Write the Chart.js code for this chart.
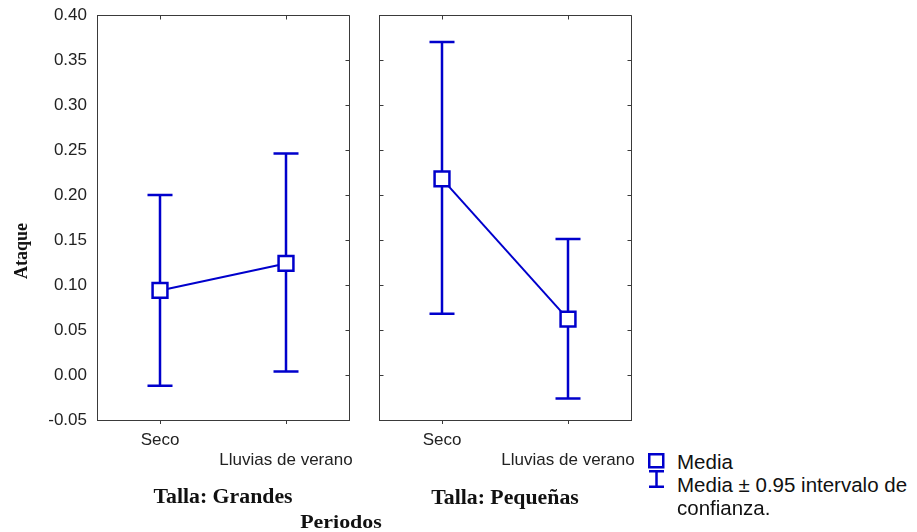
<!DOCTYPE html>
<html>
<head>
<meta charset="utf-8">
<script src="https://cdn.jsdelivr.net/npm/chart.js@4/dist/chart.umd.min.js"></script>
<style>
  body { margin: 0; background: #fff; width: 917px; height: 532px; position: relative; overflow: hidden;
         font-family: "Liberation Sans", Arial, sans-serif; }
  canvas { position: absolute; top: 0; }
  .t { position: absolute; white-space: nowrap; color: #111; line-height: 1; }
  .serif { font-family: "Liberation Serif", "Times New Roman", serif; font-weight: bold; }
  .leg { position: absolute; white-space: nowrap; color: #111; line-height: 1; font-size: 20.5px; transform: translateY(-50%); }
</style>
</head>
<body>
<canvas id="grandes" width="360" height="532" style="left:0"></canvas>
<canvas id="pequenas" width="280" height="532" style="left:360px"></canvas>

<div class="t serif" style="left:21px;top:251px;font-size:18px;transform:translate(-50%,-50%) rotate(-90deg);">Ataque</div>
<div class="t serif" style="left:223px;top:496px;font-size:20px;transform:translate(-50%,-50%) scaleX(1.09);">Talla: Grandes</div>
<div class="t serif" style="left:505px;top:497px;font-size:20px;transform:translate(-50%,-50%) scaleX(1.09);">Talla: Pequeñas</div>
<div class="t serif" style="left:341px;top:522px;font-size:18px;transform:translate(-50%,-50%) scaleX(1.22);">Periodos</div>

<svg style="position:absolute;left:645px;top:451px;" width="21" height="38" viewBox="0 0 21 38">
  <rect x="4.25" y="3.25" width="14" height="13" fill="#fff" stroke="#0000cc" stroke-width="2.5"/>
  <path d="M4 20.25 H19 M11.5 20.25 V35.75 M4 35.75 H19" stroke="#0000cc" stroke-width="2.5" fill="none"/>
</svg>
<div class="leg" style="left:677px;top:462px;">Media</div>
<div class="leg" style="left:677px;top:485px;">Media ± 0.95 intervalo de</div>
<div class="leg" style="left:677px;top:508px;">confianza.</div>

<script>
// Periods on the x axis and the y tick values
const periodos = ['Seco', 'Lluvias de verano'];
const yTicks = [-0.05, 0.00, 0.05, 0.10, 0.15, 0.20, 0.25, 0.30, 0.35, 0.40];

// Talla: Grandes — mean and 95% confidence limits
const grandesMedia = [0.094, 0.124];
const grandesInf   = [-0.012, 0.004];
const grandesSup   = [0.200, 0.246];

// Talla: Pequeñas — mean and 95% confidence limits
const pequenasMedia = [0.218, 0.062];
const pequenasInf   = [0.068, -0.026];
const pequenasSup   = [0.370, 0.151];

const BLUE = '#0000cc';
const AXIS = '#3a3a3a';
const TEXT = '#222';
const SANS = '"Liberation Sans", Arial, sans-serif';

// staggered category labels: first on line one, second on line two
const periodoLabels = periodos.map((p, i) => (i % 2 === 0 ? [p, ''] : ['', p]));

const align = (v) => Math.round(v - 0.5) + 0.5;

// vertical whiskers with caps, drawn under the mean markers
function errorBars(inf, sup) {
  return {
    id: 'errorBars',
    beforeDatasetsDraw(chart) {
      const { ctx, scales: { x, y } } = chart;
      ctx.save();
      ctx.strokeStyle = BLUE;
      ctx.lineWidth = 2.5;
      inf.forEach((lo, i) => {
        const px = x.getPixelForValue(i);
        const yl = y.getPixelForValue(lo);
        const yh = y.getPixelForValue(sup[i]);
        ctx.beginPath();
        ctx.moveTo(px, yl); ctx.lineTo(px, yh);
        ctx.moveTo(px - 12.5, yl); ctx.lineTo(px + 12.5, yl);
        ctx.moveTo(px - 12.5, yh); ctx.lineTo(px + 12.5, yh);
        ctx.stroke();
      });
      ctx.restore();
    }
  };
}

// closes the box (top and right sides) and adds the inward tick marks
function frame(leftTicks) {
  return {
    id: 'frame',
    afterDraw(chart) {
      const { ctx, chartArea: a, scales: { x, y } } = chart;
      const T = align(a.top), R = align(a.right), L = align(a.left);
      ctx.save();
      ctx.strokeStyle = AXIS;
      ctx.lineWidth = 1;
      ctx.beginPath();
      ctx.moveTo(L, T); ctx.lineTo(R, T); ctx.lineTo(R, align(a.bottom));
      y.ticks.forEach(t => {
        const py = align(y.getPixelForValue(t.value));
        ctx.moveTo(R - 4, py); ctx.lineTo(R, py);
        if (leftTicks) { ctx.moveTo(L, py); ctx.lineTo(L + 4, py); }
      });
      periodos.forEach((_, i) => {
        const px = align(x.getPixelForValue(i));
        ctx.moveTo(px, T); ctx.lineTo(px, T + 4);
      });
      ctx.stroke();
      ctx.restore();
    }
  };
}

function noScalePadding(s) {
  s.paddingTop = 0; s.paddingBottom = 0; s.paddingLeft = 0; s.paddingRight = 0;
}

function panel(id, media, inf, sup, showY, yWidth, padRight) {
  return new Chart(document.getElementById(id), {
    type: 'line',
    data: {
      labels: periodoLabels,
      datasets: [{
        data: media,
        borderColor: BLUE,
        borderWidth: 2,
        tension: 0,
        pointStyle: 'rect',
        pointRadius: 10.5,
        pointHoverRadius: 10.5,
        pointBorderWidth: 2.5,
        pointBorderColor: BLUE,
        pointBackgroundColor: '#fff'
      }]
    },
    options: {
      responsive: false,
      animation: false,
      events: [],
      layout: { padding: { left: 0, right: padRight, top: 15, bottom: 0 }, autoPadding: false },
      plugins: { legend: { display: false }, tooltip: { enabled: false } },
      scales: {
        x: {
          type: 'category',
          offset: true,
          grid: { display: true, drawOnChartArea: false, drawTicks: true, tickLength: 4, offset: false, color: AXIS },
          border: { display: true, color: AXIS, width: 1 },
          ticks: { color: TEXT, font: { family: SANS, size: 17 }, padding: 6, maxRotation: 0, autoSkip: false },
          afterFit(s) { s.height = 112; noScalePadding(s); }
        },
        y: {
          min: -0.05,
          max: 0.40,
          afterBuildTicks(s) { s.ticks = yTicks.map(v => ({ value: v })); },
          grid: { display: false, drawTicks: false },
          border: { display: true, color: AXIS, width: 1 },
          ticks: { display: showY, padding: 10, color: TEXT, font: { family: SANS, size: 17 },
                   callback: (v) => Number(v).toFixed(2) },
          afterFit(s) { s.width = yWidth; noScalePadding(s); }
        }
      }
    },
    plugins: [errorBars(inf, sup), frame(!showY)]
  });
}

panel('grandes', grandesMedia, grandesInf, grandesSup, true, 97, 11);
panel('pequenas', pequenasMedia, pequenasInf, pequenasSup, false, 19, 9);
</script>
</body>
</html>
